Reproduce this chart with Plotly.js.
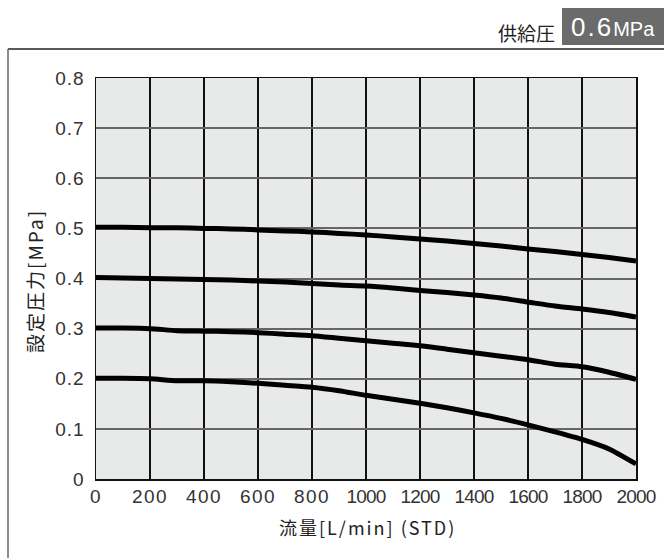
<!DOCTYPE html>
<html>
<head>
<meta charset="utf-8">
<script src="https://cdn.plot.ly/plotly-3.0.1.min.js"></script>
<style>
html,body{margin:0;padding:0;background:#fff;}
#chart{width:664px;height:558px;}
#chart .xtick text{letter-spacing:1.5px;}
#chart .xtick:nth-child(n+6) text{letter-spacing:-0.8px;}
#chart .ytick text{letter-spacing:1px;}
</style>
</head>
<body>
<div id="chart"></div>
<script>
// Flow [L/min] (STD)
const flow = [0,100,200,300,400,500,600,700,800,900,1000,1100,1200,1300,1400,1500,1600,1700,1800,1900,2000];
// Set pressure [MPa] curves
const set05 = [0.502,0.502,0.501,0.501,0.500,0.499,0.497,0.495,0.493,0.490,0.487,0.483,0.479,0.475,0.470,0.465,0.459,0.454,0.448,0.442,0.435];
const set04 = [0.402,0.401,0.400,0.399,0.398,0.397,0.395,0.393,0.390,0.387,0.385,0.381,0.376,0.372,0.367,0.361,0.353,0.345,0.339,0.332,0.323];
const set03 = [0.301,0.301,0.300,0.296,0.295,0.294,0.292,0.289,0.286,0.281,0.276,0.271,0.266,0.259,0.252,0.245,0.238,0.229,0.224,0.213,0.199];
const set02 = [0.201,0.201,0.200,0.196,0.196,0.194,0.191,0.187,0.183,0.176,0.167,0.159,0.151,0.142,0.132,0.121,0.108,0.094,0.079,0.060,0.030];
const xTicks = [0,200,400,600,800,1000,1200,1400,1600,1800,2000];
const yTicks = [0,0.1,0.2,0.3,0.4,0.5,0.6,0.7,0.8];
const yTickText = ['0','0.1','0.2','0.3','0.4','0.5','0.6','0.7','0.8'];
const xTitle = '流量[L/min] (STD)';
const yTitle = '設定圧力[MPa]';
const supplyLabel = '供給圧';
const supplyValue = '0.6';
const supplyUnit = 'MPa';

const series = [set05, set04, set03, set02];
const traces = series.map(s => ({
  x: flow, y: s, type: 'scatter', mode: 'lines',
  line: {color: '#000', width: 5, shape: 'spline', smoothing: 0.6},
  hoverinfo: 'skip', showlegend: false
}));

const L = 96, R = 28, T = 78, B = 79;
const W = 664, H = 558;
const pw = W - L - R, ph = H - T - B;
const px = v => (v - L) / pw;
const py = v => (H - B - v) / ph;

const numFont = {family: 'Liberation Sans, Arial, sans-serif', size: 19, color: '#333'};
const sp = (t, ls) => '<span style="letter-spacing:' + ls + 'px">' + t + '</span>';

const layout = {
  width: W, height: H,
  margin: {l: L, r: R, t: T, b: B},
  paper_bgcolor: '#fff',
  plot_bgcolor: '#e8e9e9',
  showlegend: false,
  xaxis: {
    range: [0, 2000], tickvals: xTicks, ticktext: xTicks.map(String),
    showgrid: true, gridcolor: '#111', gridwidth: 1.2,
    zeroline: false, showline: true, mirror: true, linecolor: '#111', linewidth: 1.5,
    ticks: '', tickfont: numFont, ticklabelstandoff: 0, fixedrange: true
  },
  yaxis: {
    range: [0, 0.8], tickvals: yTicks, ticktext: yTickText,
    showgrid: true, gridcolor: '#666', gridwidth: 2,
    zeroline: false, showline: true, mirror: true, linecolor: '#111', linewidth: 1.5,
    ticks: '', tickfont: numFont, ticklabelstandoff: 6, fixedrange: true
  },
  shapes: [
    {type: 'line', xref: 'paper', yref: 'paper', x0: px(8), x1: px(664), y0: py(49), y1: py(49), line: {color: '#222', width: 1.5}},
    {type: 'line', xref: 'paper', yref: 'paper', x0: px(8), x1: px(8), y0: py(49), y1: py(558), line: {color: '#666', width: 1.5}},
    {type: 'rect', xref: 'paper', yref: 'paper', x0: px(562), x1: px(664), y0: py(8), y1: py(45), fillcolor: '#6b6b6b', line: {width: 0}}
  ],
  annotations: [
    {xref: 'paper', yref: 'paper', x: px(367), y: py(527), text: sp(xTitle, 2), showarrow: false, font: {family: 'Noto Sans CJK JP, sans-serif', size: 18, color: '#222'}, xanchor: 'center', yanchor: 'middle'},
    {xref: 'paper', yref: 'paper', x: px(34), y: py(281), text: sp(yTitle, 2), showarrow: false, font: {family: 'Noto Sans CJK JP, sans-serif', size: 19, color: '#222'}, textangle: -90, xanchor: 'center', yanchor: 'middle'},
    {xref: 'paper', yref: 'paper', x: px(557), y: py(32), text: supplyLabel, showarrow: false, font: {family: 'Noto Sans CJK JP, sans-serif', size: 19, color: '#222'}, xanchor: 'right', yanchor: 'middle'},
    {xref: 'paper', yref: 'paper', x: px(613), y: py(27), text: sp(supplyValue, 2) + '<span style="font-size:20px">' + supplyUnit + '</span>', showarrow: false, font: {family: 'Liberation Sans, Arial, sans-serif', size: 26, color: '#fff'}, xanchor: 'center', yanchor: 'middle'}
  ]
};

Plotly.newPlot('chart', traces, layout, {displayModeBar: false, staticPlot: true});
</script>
</body>
</html>
